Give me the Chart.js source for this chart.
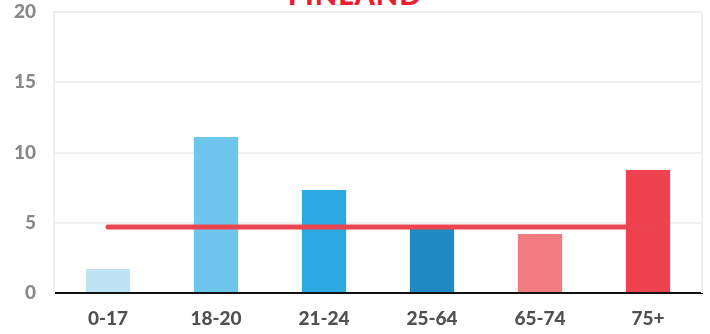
<!DOCTYPE html>
<html><head><meta charset="utf-8">
<script src="https://cdn.jsdelivr.net/npm/chart.js@4/dist/chart.umd.min.js"></script>
<style>
html,body{margin:0;padding:0;background:#fff;overflow:hidden}
#wrap{position:relative;width:710px;height:334px;overflow:hidden}
#title{position:absolute;left:0;width:710px;top:-24px;text-align:center;font-family:Lato,sans-serif;font-weight:900;font-size:29px;color:#ED1C2E;letter-spacing:1px}
canvas{position:absolute;left:0;top:0}
</style></head><body>
<div id="wrap"><div id="title">FINLAND</div><canvas id="c" width="710" height="334"></canvas></div>
<script>
const categories = ["0-17","18-20","21-24","25-64","65-74","75+"];
const values = [1.7, 11.1, 7.33, 4.55, 4.2, 8.75];
const average = [4.7, 4.7, 4.7, 4.7, 4.7, 4.7];
const yTicks = [0, 5, 10, 15, 20];
const barColors = ["#BDE3F5","#6EC6EC","#2CA9E1","#1F8BC2","#F27B82","#EF424F"];

new Chart(document.getElementById('c'), {
  data: {
    labels: categories,
    datasets: [
      {type:'line', data: average, borderColor:'#EC4552', borderWidth:5, pointRadius:0, borderCapStyle:'round', order:0},
      {type:'bar', data: values, backgroundColor: barColors, barPercentage:0.41, categoryPercentage:1, order:1}
    ]
  },
  options: {
    responsive:false, animation:false,
    layout:{padding:{top:12,right:8,left:0,bottom:0}},
    plugins:{legend:{display:false}, tooltip:{enabled:false}},
    scales:{
      x:{
        afterFit: s => { s.height = 41; s.paddingLeft = 0; s.paddingRight = 0; },
        grid:{display:false, drawTicks:false},
        border:{color:'#111', width:2},
        ticks:{color:'#505050', font:{family:'Lato', weight:'900', size:19}, padding:14}
      },
      y:{
        min:0, max:20,
        afterBuildTicks: s => { s.ticks = yTicks.map(v=>({value:v})); },
        afterFit: s => { s.width = 54; s.paddingTop = 0; s.paddingBottom = 0; },
        grid:{color:'#EFEFEF', drawTicks:false, lineWidth:2},
        border:{color:'#EFEFEF', width:2},
        ticks:{color:'#888', font:{family:'Lato', weight:'900', size:19}, padding:18}
      }
    }
  },
  plugins:[{
    id:'frame',
    afterDraw(chart){
      const {ctx, chartArea:a} = chart;
      ctx.save(); ctx.strokeStyle='#EFEFEF'; ctx.lineWidth=2;
      ctx.beginPath(); ctx.moveTo(a.right, a.top); ctx.lineTo(a.right, a.bottom); ctx.stroke();
      ctx.restore();
    }
  }]
});
</script></body></html>
